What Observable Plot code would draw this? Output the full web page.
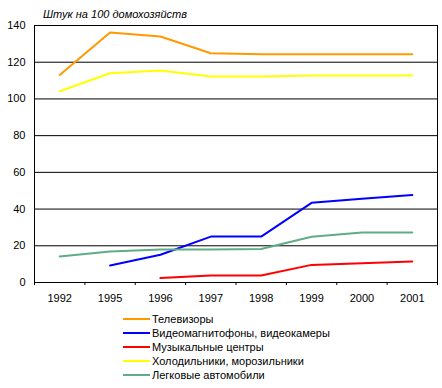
<!DOCTYPE html>
<html>
<head>
<meta charset="utf-8">
<script src="https://cdn.jsdelivr.net/npm/d3@7"></script>
<script src="https://cdn.jsdelivr.net/npm/@observablehq/plot@0.6"></script>
<style>
  body { margin: 0; background: #fff; font-family: "Liberation Sans", Arial, sans-serif; }
  #title { height: 20px; font-size: 11px; font-style: italic; padding-left: 43px; line-height: 28px; box-sizing: border-box; }
  #legend { font-size: 11px; padding-left: 123px; padding-top: 4px; }
  .row { height: 14px; display: flex; align-items: center; }
  .sw { width: 27px; height: 2px; margin-right: 2px; }
  svg { display: block; }
</style>
</head>
<body>
<div id="title">Штук на 100 домохозяйств</div>
<div id="chart"></div>
<div id="legend"></div>
<script>
const years = ["1992", "1995", "1996", "1997", "1998", "1999", "2000", "2001"];
const seriesNames = ["Телевизоры", "Видеомагнитофоны, видеокамеры", "Музыкальные центры", "Холодильники, морозильники", "Легковые автомобили"];
const seriesColors = ["#FF9900", "#0000FF", "#FF0000", "#FFFF00", "#5FAD85"];
const tv = [113, 136.2, 134, 124.9, 124.3, 124.3, 124.3, 124.3];
const vcr = [null, 9.3, 15.1, 25, 25, 43.4, 45.6, 47.6];
const music = [null, null, 2.4, 3.8, 3.8, 9.6, 10.5, 11.4];
const fridge = [104.2, 114, 115.5, 112.2, 112.2, 112.7, 112.8, 112.8];
const cars = [14.2, 16.9, 18, 18, 18.2, 24.9, 27.2, 27.2];
const yTicks = [0, 20, 40, 60, 80, 100, 120, 140];

const allSeries = [tv, vcr, music, fridge, cars];
const rows = [];
allSeries.forEach((vals, s) => {
  vals.forEach((v, i) => {
    if (v != null) rows.push({series: seriesNames[s], i, v});
  });
});
const idx = years.map((_, i) => i);
const edges = d3.range(-0.5, years.length, 1);

const chart = Plot.plot({
  width: 442,
  height: 288,
  marginLeft: 34,
  marginRight: 5,
  marginTop: 5,
  marginBottom: 26,
  style: {fontFamily: "Liberation Sans, Arial, sans-serif", fontSize: "11px", color: "#000"},
  x: {type: "linear", domain: [-0.5, years.length - 0.5]},
  y: {domain: [0, 140]},
  color: {domain: seriesNames, range: seriesColors},
  marks: [
    Plot.ruleY(yTicks, {stroke: "#000", strokeWidth: 1}),
    Plot.frame({stroke: "#000", strokeWidth: 1}),
    Plot.axisY(yTicks, {tickSize: 0, tickPadding: 9, label: null, fontSize: 11, fill: "#000"}),
    Plot.axisX(edges, {tickSize: 3, tickFormat: () => "", label: null, stroke: "#000"}),
    Plot.axisX(idx, {tickSize: 0, tickPadding: 12, tickFormat: i => years[i], label: null, fontSize: 11, fill: "#000"}),
    Plot.line(rows, {x: "i", y: "v", z: "series", stroke: "series", strokeWidth: 2, curve: "linear"})
  ]
});
document.getElementById("chart").appendChild(chart);

const legend = document.getElementById("legend");
seriesNames.forEach((n, k) => {
  const r = document.createElement("div");
  r.className = "row";
  const sw = document.createElement("span");
  sw.className = "sw";
  sw.style.background = seriesColors[k];
  const t = document.createElement("span");
  t.textContent = n;
  r.appendChild(sw);
  r.appendChild(t);
  legend.appendChild(r);
});
</script>
</body>
</html>
